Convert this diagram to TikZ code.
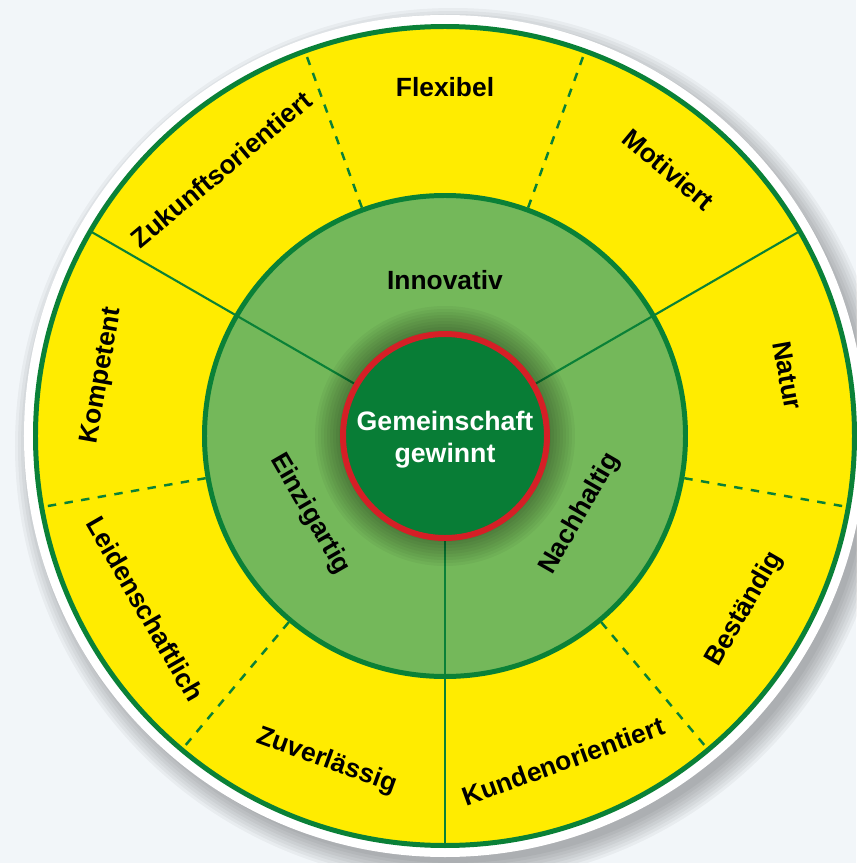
\documentclass[tikz,border=0pt]{standalone}
\usepackage{fontspec}
\setmainfont{Liberation Sans}
\definecolor{ringyellow}{HTML}{FFEC00}
\definecolor{linegreen}{HTML}{0A8137}
\definecolor{midgreen}{HTML}{74B85A}
\definecolor{coregreen}{HTML}{087D36}
\definecolor{corered}{HTML}{D51F26}
\definecolor{backblue}{HTML}{F2F6F9}
\tikzset{
  ringtext/.style={font=\bfseries\fontsize{7.5}{9}\selectfont, text=black, inner sep=0pt},
  divider/.style={draw=linegreen, line width=0.6pt},
  dashdivider/.style={divider, line width=0.7pt, dash pattern=on 2.4pt off 2.4pt},
}
\begin{document}
\begin{tikzpicture}
      \fill[backblue] (-4.45,-4.27) rectangle (4.11,4.36);
      \useasboundingbox (-4.45,-4.27) rectangle (4.11,4.36);
      % soft shadow and white rim
      \foreach \r in {4.17,4.20,...,4.38}
        \fill[black, opacity=0.04] (0.08,-0.1) circle (\r);
      \fill[white] (0,0) circle (4.21);
      \draw[linegreen, line width=1.42pt, fill=ringyellow] (0,0) circle (4.095);
      \draw[linegreen, line width=1.42pt, fill=midgreen] (0,0) circle (2.405);
      \path
        (30:1.05) coordinate (s30a)   (30:4.08) coordinate (s30b)
        (150:1.05) coordinate (s150a) (150:4.08) coordinate (s150b)
        (270:1.05) coordinate (s270a) (270:4.08) coordinate (s270b)
        (70:2.43) coordinate (d70a)   (70:4.08) coordinate (d70b)
        (110:2.43) coordinate (d110a) (110:4.08) coordinate (d110b)
        (190:2.43) coordinate (d190a) (190:4.08) coordinate (d190b)
        (230:2.43) coordinate (d230a) (230:4.08) coordinate (d230b)
        (310:2.43) coordinate (d310a) (310:4.08) coordinate (d310b)
        (350:2.43) coordinate (d350a) (350:4.08) coordinate (d350b);
      \begin{scope}[divider]
        \draw (s30a) to (s30b);
        \draw (s150a) to (s150b);
        \draw (s270a) to (s270b);
      \end{scope}
      \begin{scope}[dashdivider]
        \draw (d70a) to (d70b);
        \draw (d110a) to (d110b);
        \draw (d190a) to (d190b);
        \draw (d230a) to (d230b);
        \draw (d310a) to (d310b);
        \draw (d350a) to (d350b);
      \end{scope}
      % glow round the core
      \foreach \r in {1.06,1.09,...,1.30}
        \fill[black, opacity=0.04] (0,0) circle (\r);
      \draw[corered, line width=1.7pt, fill=coregreen] (0,0) circle (1.02);
      \node[font=\bfseries\fontsize{7.6}{9.1}\selectfont, text=white, align=center, inner sep=0pt]
        (core) at (0,-0.04) {Gemeinschaft\\gewinnt};
      \draw
        (90:1.56) node[ringtext] (innovativ) {Innovativ}
        (210:1.56) node[ringtext, rotate=-60] (einzigartig) {Einzigartig}
        (330:1.56) node[ringtext, rotate=60] (nachhaltig) {Nachhaltig};
      \draw
        (90:3.49) node[ringtext] (flexibel) {Flexibel}
        (50:3.48) node[ringtext, rotate=-40] (motiviert) {Motiviert}
        (10:3.48) node[ringtext, rotate=-80] (natur) {Natur}
        (-30:3.46) node[ringtext, rotate=60] (bestaendig) {Beständig}
        (-70:3.46) node[ringtext, rotate=20] (kundenorientiert) {Kundenorientiert}
        (-110:3.46) node[ringtext, rotate=-20] (zuverlaessig) {Zuverlässig}
        (-150:3.46) node[ringtext, rotate=-60] (leidenschaftlich) {Leidenschaftlich}
        (170:3.48) node[ringtext, rotate=80] (kompetent) {Kompetent}
        (130:3.48) node[ringtext, rotate=40] (zukunft) {Zukunftsorientiert};
    \end{tikzpicture}
\end{document}
